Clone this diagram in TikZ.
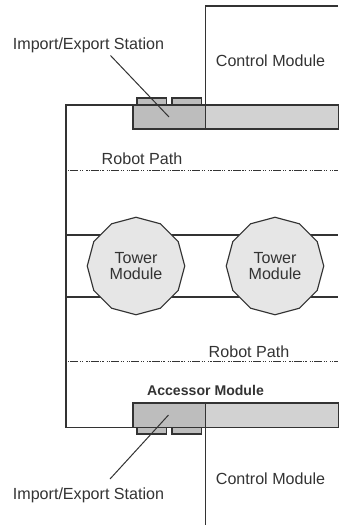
\documentclass[tikz,border=0pt]{standalone}
\usepackage{fontspec}
\setmainfont{Liberation Sans}
\usetikzlibrary{shapes.geometric}
\definecolor{ink}{HTML}{333333}
\definecolor{darkfill}{HTML}{BDBDBD}
\definecolor{lightfill}{HTML}{D2D2D2}
\definecolor{towerfill}{HTML}{E6E6E6}
\tikzset{
  wall/.style={draw=ink,line width=1.15pt},
  leader/.style={draw=ink,line width=1pt},
  pathline/.style={draw=ink,line width=1pt,dash pattern=on 1.2pt off 1pt on 1.2pt off 1pt on 8pt off 1.5pt on 1.2pt off 1pt on 1.2pt off 3pt},
  label/.style={font=\fontsize{16.1}{16}\selectfont,text=ink,inner sep=0pt},
  boldlabel/.style={font=\fontsize{14.1}{14}\selectfont\bfseries,text=ink,inner sep=0pt},
  tower/.style={regular polygon,regular polygon sides=12,shape border rotate=15,minimum size=97.5pt,inner sep=0pt,draw=ink,line width=1.15pt,fill=towerfill,
     align=center,font=\fontsize{16.1}{15.5}\selectfont,text=ink},
}
\begin{document}
\begin{tikzpicture}[x=1pt,y=-1pt]
\useasboundingbox (0,0) rectangle (338,525);
% frames
\draw[wall] (338,6) -- (205.5,6) -- (205.5,105);
\draw[wall] (338,105) -- (66,105) -- (66,427.5) -- (133,427.5);
\draw[wall] (205.5,427.5) -- (205.5,525);
% tower rails
\coordinate (r1l) at (66,235); \coordinate (r1r) at (338,235);
\coordinate (r2l) at (66,297); \coordinate (r2r) at (338,297);
\draw[wall] (r1l) -- (r1r);
\draw[wall] (r2l) -- (r2r);
% robot paths
\coordinate (p1l) at (66,170.5); \coordinate (p1r) at (338,170.5);
\coordinate (p2l) at (66,361.5); \coordinate (p2r) at (338,361.5);
\draw[pathline] (p1l) -- (p1r);
\draw[pathline] (p2l) -- (p2r);
% top station
\draw[wall,fill=darkfill] (137,105) rectangle (166.5,98);
\draw[wall,fill=darkfill] (172,105) rectangle (201.5,98);
\draw[wall,fill=lightfill] (205.5,105) rectangle (339,129);
\draw[wall,fill=darkfill] (133,105) rectangle (205.5,129);
% bottom station
\draw[wall,fill=darkfill] (137,427.5) rectangle (166.5,434);
\draw[wall,fill=darkfill] (172,427.5) rectangle (201.5,434);
\draw[wall,fill=lightfill] (205.5,403) rectangle (339,427.5);
\draw[wall,fill=darkfill] (133,403) rectangle (205.5,427.5);
% towers
\node[tower] (t1) at (136,266) {Tower\\Module};
\node[tower] (t2) at (275,266) {Tower\\Module};
% labels
\node[label] (ie1) at (88.5,45.5) {Import/Export Station};
\node[label] (cm1) at (270.5,60.5) {Control Module};
\node[label] (rp1) at (142,158.5) {Robot Path};
\node[label] (rp2) at (249,351.5) {Robot Path};
\node[boldlabel] (am) at (205.5,390) {Accessor Module};
\node[label] (cm2) at (270.5,479) {Control Module};
\node[label] (ie2) at (88.5,495) {Import/Export Station};
% leaders
\coordinate (l1a) at (110.5,55.5); \coordinate (l1b) at (169,117);
\coordinate (l2a) at (110,479); \coordinate (l2b) at (168.5,415);
\draw[leader] (l1a) -- (l1b);
\draw[leader] (l2a) -- (l2b);
\end{tikzpicture}
\end{document}
